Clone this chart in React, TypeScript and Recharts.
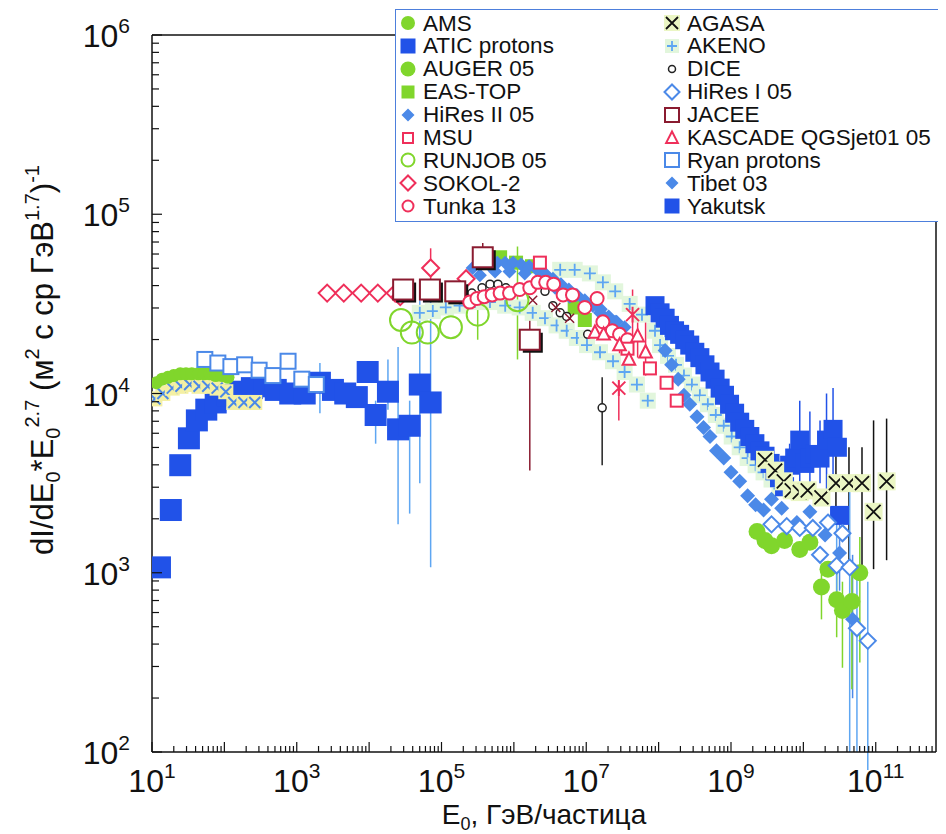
import { ScatterChart, Scatter, XAxis, YAxis, ErrorBar, ReferenceLine, Legend, Label } from 'recharts';

// Points are [lg E0, lg flux] or [lg E0, lg flux, lg lower, lg upper]
const AMS = [
  [1.06, 4.06], [1.14, 4.08], [1.22, 4.09], [1.30, 4.1], [1.39, 4.11], [1.47, 4.11], [1.55, 4.11],
  [1.64, 4.11], [1.72, 4.11], [1.8, 4.11], [1.88, 4.1], [1.97, 4.1], [2.05, 4.09],
];
const ATIC = [
  [1.11, 3.03], [1.26, 3.35], [1.39, 3.6], [1.51, 3.75], [1.62, 3.85], [1.75, 3.91], [1.88, 3.95],
  [2.05, 3.99], [2.22, 4.01], [2.38, 4.03], [2.55, 4.04], [2.71, 4.02], [2.91, 4.0], [3.11, 4.0],
  [3.32, 4.06, 3.89, 4.17], [3.5, 4.02], [3.67, 4.0], [3.83, 3.98], [3.98, 4.12],
  [4.09, 3.88, 3.72, 3.96], [4.26, 4.01, 3.91, 4.19], [4.4, 3.8, 3.27, 4.26], [4.56, 3.82, 3.33, 3.96],
  [4.7, 4.05, 3.5, 4.52], [4.85, 3.95, 3.03, 4.52],
];
const LOW_E_CROSSES = [
  [1.04, 3.97], [1.15, 4.0], [1.28, 4.03], [1.4, 4.04], [1.52, 4.05], [1.65, 4.04], [1.77, 4.04],
  [1.9, 4.03], [2.02, 4.01], [2.13, 3.95], [2.27, 3.95], [2.42, 3.95],
];
const RYAN = [
  [1.73, 4.19], [1.91, 4.17], [2.09, 4.15], [2.28, 4.16], [2.48, 4.13], [2.67, 4.1], [2.88, 4.18],
  [3.07, 4.08], [3.27, 4.05],
];
const SOKOL = [
  [3.42, 4.56], [3.65, 4.56], [3.89, 4.56], [4.12, 4.56], [4.36, 4.56], [4.43, 4.54],
  [4.85, 4.7, 4.62, 4.81], [5.34, 4.64],
];
const JACEE = [
  [4.47, 4.58], [4.84, 4.58], [5.19, 4.57], [5.57, 4.76, 4.7, 4.84], [6.22, 4.3, 3.57, 4.41],
];
const RUNJOB = [
  [4.44, 4.41], [4.59, 4.34], [4.81, 4.34], [5.13, 4.37], [5.5, 4.44, 4.3, 4.5], [6.05, 4.52, 4.19, 4.82],
];
const TUNKA = [
  [5.39, 4.51], [5.49, 4.53], [5.59, 4.54], [5.7, 4.55], [5.81, 4.56], [5.94, 4.56], [6.08, 4.58],
  [6.22, 4.59], [6.33, 4.62], [6.44, 4.62], [6.55, 4.61], [6.68, 4.55], [6.81, 4.55], [6.98, 4.48],
  [7.15, 4.53], [7.23, 4.4], [7.36, 4.35], [7.46, 4.33], [7.57, 4.3],
];
const TIBET = [
  [5.43, 4.7], [5.54, 4.72], [5.65, 4.72], [5.77, 4.73], [5.88, 4.73], [5.99, 4.73], [6.1, 4.72],
  [6.21, 4.71], [6.32, 4.69], [6.43, 4.67], [6.54, 4.64], [6.65, 4.61], [6.76, 4.58], [6.87, 4.55],
  [6.98, 4.52], [7.09, 4.49], [7.2, 4.47], [7.31, 4.43], [7.42, 4.4], [7.53, 4.37],
  [5.53, 4.66], [5.74, 4.68], [5.94, 4.68], [6.15, 4.67], [6.36, 4.64], [6.57, 4.59], [6.77, 4.54],
  [6.98, 4.49], [7.19, 4.45], [7.4, 4.4],
];
const HIRES2 = [
  [8.09, 4.24, 4.18, 4.35], [8.18, 4.16], [8.27, 4.08], [8.35, 3.99], [8.43, 3.94], [8.53, 3.87],
  [8.62, 3.81], [8.71, 3.76], [8.8, 3.68], [8.9, 3.64], [9.0, 3.56], [9.12, 3.51], [9.23, 3.43],
  [9.34, 3.38], [9.45, 3.35], [9.56, 3.41], [9.7, 3.36], [9.91, 3.28], [10.09, 3.34], [10.3, 3.21],
  [10.5, 3.11, 2.9, 3.3], [10.68, 2.74, 2.3, 3.1],
];
const HIRES1 = [
  [9.56, 3.27], [9.77, 3.26], [9.95, 3.25], [10.13, 3.25], [10.34, 3.28], [10.23, 3.1],
  [10.46, 3.04, 2.85, 3.3], [10.54, 3.22], [10.64, 3.03, 2.0, 3.5], [10.74, 2.69, 2.0, 3.0],
  [10.89, 2.62, 1.9, 2.95],
];
const AUGER = [
  [9.36, 3.23], [9.47, 3.18], [9.56, 3.15], [9.74, 3.18], [9.95, 3.13], [10.09, 3.17], [10.34, 3.02],
  [10.25, 2.92, 2.74, 3.05], [10.46, 2.85, 2.64, 3.0], [10.54, 2.79, 2.47, 2.95], [10.67, 2.84, 2.35, 3.0],
  [10.78, 3.0, 2.5, 3.2],
];
const AGASA = [
  [9.47, 3.63], [9.61, 3.57], [9.73, 3.51], [9.84, 3.46], [9.95, 3.45], [10.06, 3.46], [10.25, 3.42],
  [10.45, 3.5, 3.29, 3.66], [10.63, 3.5, 3.04, 3.7], [10.81, 3.5, 3.02, 3.7], [10.97, 3.34, 3.02, 3.85],
  [11.15, 3.51, 3.07, 3.86],
];
const YAKUTSK = [
  [7.95, 4.49], [8.02, 4.45], [8.09, 4.42], [8.15, 4.38], [8.22, 4.35], [8.29, 4.33], [8.36, 4.3],
  [8.43, 4.27], [8.5, 4.23], [8.57, 4.2], [8.64, 4.16], [8.71, 4.12], [8.78, 4.08], [8.85, 4.03],
  [8.91, 3.99], [8.98, 3.94], [9.05, 3.89], [9.12, 3.84], [9.19, 3.8], [9.26, 3.76], [9.33, 3.72],
  [9.4, 3.68], [9.47, 3.65], [9.54, 3.61], [9.61, 3.57], [9.67, 3.53], [9.74, 3.48],
  [9.81, 3.6, 3.45, 3.72], [9.88, 3.64], [9.95, 3.74, 3.5, 3.96], [10.02, 3.61], [10.09, 3.64, 3.45, 3.9],
  [10.16, 3.66], [10.23, 3.64, 3.5, 3.85], [10.32, 3.74, 3.45, 4.0], [10.41, 3.8, 3.55, 4.03],
  [10.47, 3.7], [10.5, 3.32],
];
const EAS_TOP = [[5.81, 4.76], [6.03, 4.73], [6.25, 4.71], [6.84, 4.48], [6.98, 4.41]];
const MSU = [[6.36, 4.73], [7.57, 4.25], [7.88, 4.14], [8.11, 4.06], [8.25, 3.96]];
const KASCADE = [
  [7.12, 4.34], [7.24, 4.33], [7.46, 4.27, 4.1, 4.38], [7.59, 4.19, 4.08, 4.3], [7.71, 4.32, 4.2, 4.42],
  [7.82, 4.23, 4.1, 4.41],
];
const KASCADE_STARS = [[7.64, 4.44, 4.3, 4.58], [7.45, 4.03, 3.85, 4.2]];
const DICE = [
  [5.42, 4.56], [5.56, 4.59], [5.67, 4.61], [5.78, 4.61], [5.89, 4.59], [6.43, 4.57], [6.54, 4.49],
  [6.64, 4.45], [6.73, 4.43], [7.02, 4.33], [7.22, 3.92, 3.6, 4.09],
];
const DARK_CROSSES = [[6.26, 4.52], [6.58, 4.48], [6.77, 4.42]];
const AKENO = [
  [4.7, 4.45], [4.88, 4.46], [5.06, 4.48], [5.25, 4.49], [5.46, 4.51], [5.67, 4.51], [5.88, 4.49],
  [6.08, 4.48], [6.26, 4.45], [6.43, 4.42], [6.59, 4.38], [6.73, 4.35], [6.87, 4.31], [7.01, 4.27],
  [7.19, 4.23], [7.37, 4.18], [7.53, 4.12], [7.7, 4.05], [7.85, 3.96],
  [6.64, 4.69], [6.84, 4.69], [7.05, 4.67], [7.23, 4.62], [7.4, 4.57], [7.6, 4.5], [7.77, 4.44], [7.95, 4.35],
  [8.02, 4.27], [8.13, 4.21], [8.24, 4.16], [8.35, 4.1], [8.46, 4.05], [8.57, 3.99], [8.68, 3.94],
  [8.79, 3.88], [8.9, 3.82], [9.01, 3.76], [9.12, 3.7], [9.23, 3.64], [9.34, 3.6], [9.45, 3.56],
  [9.56, 3.52], [9.67, 3.47],
];

// axis decades
const X_DECADES = [1, 2, 3, 4, 5, 6, 7, 8, 9, 10, 11];
const X_LABELED = [1, 3, 5, 7, 9, 11];
const Y_DECADES = [2, 3, 4, 5, 6];
const X_MIN = 10;
const X_MAX = 6.8e11;
const Y_MIN = 100;
const Y_MAX = 1e6;

const FONT = "Arial, 'Liberation Sans', sans-serif";
const BLUE_DEEP = '#2152e8';
const BLUE_MID = '#4b89e8';
const BLUE_LIGHT = '#5ea6f2';
const GREEN = '#80d62c';
const RED = '#ef2f5a';
const MAROON = '#8a1b30';

const logTicks = (decades: number[], max: number) => {
  const out: number[] = [];
  decades.forEach((d) => {
    for (let k = 1; k <= 9; k++) {
      const v = k * 10 ** d;
      if (v <= max * 1.0001) out.push(v);
    }
  });
  return out;
};
const X_TICKS = logTicks(X_DECADES, X_MAX);
const Y_TICKS = logTicks(Y_DECADES, Y_MAX);

const rows = (pts: number[][]) =>
  pts.map(([lx, ly, lo, hi]) => {
    const y = 10 ** ly;
    return { x: 10 ** lx, y, err: lo === undefined ? undefined : [y - 10 ** lo, 10 ** hi - y] };
  });

type GlyphStyle = {
  kind: 'circle' | 'square' | 'diamond' | 'triangle' | 'plus' | 'cross' | 'star' | 'shadowSquare';
  size: number;
  fill?: string;
  stroke?: string;
  sw?: number;
  bg?: string;
};

function Glyph({ cx, cy, g }: { cx: number; cy: number; g: GlyphStyle }) {
  if (cx == null || cy == null) return null;
  const r = g.size / 2;
  const sw = g.sw ?? 1.5;
  const fill = g.fill ?? 'none';
  const stroke = g.stroke ?? 'none';
  const bg = g.bg ? (
    <rect x={cx - r - 2} y={cy - r - 2} width={g.size + 4} height={g.size + 4} fill={g.bg} />
  ) : null;
  switch (g.kind) {
    case 'circle':
      return <circle cx={cx} cy={cy} r={r} fill={fill} stroke={stroke} strokeWidth={sw} />;
    case 'square':
      return <rect x={cx - r} y={cy - r} width={g.size} height={g.size} fill={fill} stroke={stroke} strokeWidth={sw} />;
    case 'shadowSquare':
      return (
        <g>
          <rect x={cx - r + 3} y={cy - r + 3} width={g.size} height={g.size} fill="#111" />
          <rect x={cx - r} y={cy - r} width={g.size} height={g.size} fill={fill} stroke={stroke} strokeWidth={sw} />
        </g>
      );
    case 'diamond':
      return (
        <polygon
          points={`${cx},${cy - r} ${cx + r},${cy} ${cx},${cy + r} ${cx - r},${cy}`}
          fill={fill}
          stroke={stroke}
          strokeWidth={sw}
        />
      );
    case 'triangle':
      return (
        <polygon
          points={`${cx},${cy - r} ${cx + r * 0.9},${cy + r * 0.75} ${cx - r * 0.9},${cy + r * 0.75}`}
          fill={fill}
          stroke={stroke}
          strokeWidth={sw}
        />
      );
    case 'plus':
      return (
        <g>
          {bg}
          <path d={`M${cx - r},${cy}H${cx + r}M${cx},${cy - r}V${cy + r}`} stroke={stroke} strokeWidth={sw} />
        </g>
      );
    case 'cross':
      return (
        <g>
          {bg}
          <path d={`M${cx - r},${cy - r}L${cx + r},${cy + r}M${cx - r},${cy + r}L${cx + r},${cy - r}`} stroke={stroke} strokeWidth={sw} />
        </g>
      );
    case 'star':
      return (
        <path
          d={`M${cx - r},${cy - r}L${cx + r},${cy + r}M${cx - r},${cy + r}L${cx + r},${cy - r}M${cx},${cy - r * 1.2}V${cy + r * 1.2}`}
          stroke={stroke}
          strokeWidth={sw}
        />
      );
    default:
      return null;
  }
}

const G: Record<string, GlyphStyle> = {
  ams: { kind: 'circle', size: 13, fill: GREEN },
  atic: { kind: 'square', size: 22, fill: BLUE_DEEP },
  lowE: { kind: 'cross', size: 11, stroke: BLUE_MID, sw: 2, bg: '#f4f0a4' },
  ryan: { kind: 'square', size: 15, fill: '#fff', stroke: BLUE_MID, sw: 2 },
  sokol: { kind: 'diamond', size: 17, fill: '#fff', stroke: RED, sw: 2 },
  jacee: { kind: 'shadowSquare', size: 20, fill: '#fff', stroke: MAROON, sw: 2 },
  runjob: { kind: 'circle', size: 22, fill: 'none', stroke: GREEN, sw: 2 },
  tunka: { kind: 'circle', size: 13, fill: '#fff', stroke: RED, sw: 2 },
  tibet: { kind: 'diamond', size: 14, fill: BLUE_MID },
  hires2: { kind: 'diamond', size: 15, fill: BLUE_MID },
  hires1: { kind: 'diamond', size: 16, fill: '#fff', stroke: BLUE_MID, sw: 2 },
  auger: { kind: 'circle', size: 17, fill: GREEN },
  agasa: { kind: 'cross', size: 14, stroke: '#111', sw: 1.8, bg: '#ebf6c4' },
  yakutsk: { kind: 'square', size: 19, fill: BLUE_DEEP },
  eastop: { kind: 'square', size: 14, fill: GREEN },
  msu: { kind: 'square', size: 12, fill: '#fff', stroke: RED, sw: 2 },
  kascade: { kind: 'triangle', size: 14, fill: '#fff', stroke: RED, sw: 2 },
  stars: { kind: 'star', size: 13, stroke: RED, sw: 2 },
  dice: { kind: 'circle', size: 8, fill: '#fff', stroke: '#222', sw: 1.5 },
  darkX: { kind: 'cross', size: 9, stroke: MAROON, sw: 1.5 },
  akeno: { kind: 'plus', size: 12, stroke: BLUE_LIGHT, sw: 1.8, bg: '#e2f6dc' },
};

// drawing order: later series sit on top
const SERIES = [
  { name: 'AKENO', pts: AKENO, g: G.akeno, err: BLUE_LIGHT },
  { name: 'ATIC protons', pts: ATIC, g: G.atic, err: BLUE_LIGHT },
  { name: 'low-E', pts: LOW_E_CROSSES, g: G.lowE, err: BLUE_MID },
  { name: 'AMS', pts: AMS, g: G.ams, err: GREEN },
  { name: 'Ryan protons', pts: RYAN, g: G.ryan, err: BLUE_MID },
  { name: 'EAS-TOP', pts: EAS_TOP, g: G.eastop, err: GREEN },
  { name: 'Tibet 03', pts: TIBET, g: G.tibet, err: BLUE_MID },
  { name: 'HiRes II 05', pts: HIRES2, g: G.hires2, err: BLUE_MID },
  { name: 'DICE', pts: DICE, g: G.dice, err: '#222' },
  { name: 'dark-x', pts: DARK_CROSSES, g: G.darkX, err: MAROON },
  { name: 'SOKOL-2', pts: SOKOL, g: G.sokol, err: RED },
  { name: 'JACEE', pts: JACEE, g: G.jacee, err: MAROON },
  { name: 'RUNJOB 05', pts: RUNJOB, g: G.runjob, err: GREEN },
  { name: 'Tunka 13', pts: TUNKA, g: G.tunka, err: RED },
  { name: 'MSU', pts: MSU, g: G.msu, err: RED },
  { name: 'KASCADE QGSjet01 05', pts: KASCADE, g: G.kascade, err: RED },
  { name: 'stars', pts: KASCADE_STARS, g: G.stars, err: RED },
  { name: 'Yakutsk', pts: YAKUTSK, g: G.yakutsk, err: BLUE_DEEP },
  { name: 'AGASA', pts: AGASA, g: G.agasa, err: '#111' },
  { name: 'AUGER 05', pts: AUGER, g: G.auger, err: GREEN },
  { name: 'HiRes I 05', pts: HIRES1, g: G.hires1, err: BLUE_LIGHT },
];

const LEGEND_LEFT: [string, GlyphStyle][] = [
  ['AMS', { kind: 'circle', size: 14, fill: GREEN }],
  ['ATIC protons', { kind: 'square', size: 15, fill: BLUE_DEEP }],
  ['AUGER 05', { kind: 'circle', size: 15, fill: GREEN }],
  ['EAS-TOP', { kind: 'square', size: 13, fill: GREEN }],
  ['HiRes II 05', { kind: 'diamond', size: 13, fill: BLUE_MID }],
  ['MSU', { kind: 'square', size: 10, fill: '#fff', stroke: RED, sw: 2 }],
  ['RUNJOB 05', { kind: 'circle', size: 13, fill: '#fff', stroke: GREEN, sw: 2 }],
  ['SOKOL-2', { kind: 'diamond', size: 15, fill: '#fff', stroke: RED, sw: 2 }],
  ['Tunka 13', { kind: 'circle', size: 11, fill: '#fff', stroke: RED, sw: 2 }],
];
const LEGEND_RIGHT: [string, GlyphStyle][] = [
  ['AGASA', { kind: 'cross', size: 12, stroke: '#111', sw: 1.8, bg: '#ebf6c4' }],
  ['AKENO', { kind: 'plus', size: 10, stroke: BLUE_LIGHT, sw: 1.8, bg: '#e2f6dc' }],
  ['DICE', { kind: 'circle', size: 7, fill: '#fff', stroke: '#222', sw: 1.5 }],
  ['HiRes I 05', { kind: 'diamond', size: 15, fill: '#fff', stroke: BLUE_MID, sw: 2 }],
  ['JACEE', { kind: 'square', size: 14, fill: '#fff', stroke: MAROON, sw: 2 }],
  ['KASCADE QGSjet01 05', { kind: 'triangle', size: 13, fill: '#fff', stroke: RED, sw: 2 }],
  ['Ryan protons', { kind: 'square', size: 14, fill: '#fff', stroke: BLUE_MID, sw: 2 }],
  ['Tibet 03', { kind: 'diamond', size: 13, fill: BLUE_MID }],
  ['Yakutsk', { kind: 'square', size: 15, fill: BLUE_DEEP }],
];

function LegendBox() {
  return (
    <div
      style={{
        position: 'relative',
        width: 546,
        height: 213,
        boxSizing: 'border-box',
        border: '1.5px solid #4d7fdc',
        background: '#fff',
        fontFamily: FONT,
        fontSize: 22.5,
        color: '#111',
      }}
    >
      {[LEGEND_LEFT, LEGEND_RIGHT].map((col, c) =>
        col.map(([label, g], i) => (
          <div
            key={label}
            style={{
              position: 'absolute',
              left: c === 0 ? 1 : 265,
              top: 1.5 + i * 22.9,
              height: 23,
              display: 'flex',
              alignItems: 'center',
              whiteSpace: 'nowrap',
            }}
          >
            <svg width={22} height={22} style={{ display: 'block' }}>
              <Glyph cx={11} cy={11} g={g} />
            </svg>
            <span style={{ marginLeft: 4, lineHeight: '23px' }}>{label}</span>
          </div>
        )),
      )}
    </div>
  );
}

const isMajor = (v: number) => Math.abs(Math.log10(v) - Math.round(Math.log10(v))) < 1e-6;

const XTick = ({ x, y, payload }: any) => {
  const v = payload.value;
  const e = Math.round(Math.log10(v));
  const major = isMajor(v);
  return (
    <g>
      <line x1={x} x2={x} y1={y} y2={y - (major ? 10 : 6)} stroke="#111" strokeWidth={1.2} />
      {major && X_LABELED.includes(e) && (
        <text x={x} y={y + 40} textAnchor="middle" fontSize={32} fontFamily={FONT} fill="#111">
          10<tspan dy={-14} fontSize={21}>{e}</tspan>
        </text>
      )}
    </g>
  );
};

const YTick = ({ x, y, payload }: any) => {
  const v = payload.value;
  const e = Math.round(Math.log10(v));
  const major = isMajor(v);
  return (
    <g>
      <line x1={x} x2={x + (major ? 10 : 7)} y1={y} y2={y} stroke="#111" strokeWidth={1.2} />
      {major && (
        <text x={x - 22} y={y + 12} textAnchor="end" fontSize={32} fontFamily={FONT} fill="#111">
          10<tspan dy={-14} fontSize={21}>{e}</tspan>
        </text>
      )}
    </g>
  );
};

const XTitle = ({ viewBox }: any) => (
  <text x={viewBox.x + viewBox.width / 2} y={viewBox.y + 72} textAnchor="middle" fontSize={28} fontFamily={FONT} fill="#111">
    E<tspan dy={6} fontSize={18}>0</tspan>
    <tspan dy={-6}>, ГэВ/частица</tspan>
  </text>
);

const YTitle = () => (
  <text transform="translate(45,352) rotate(-90)" textAnchor="middle" fontSize={31} fontFamily={FONT} fill="#111">
    dI/dE<tspan dy={7} fontSize={20}>0</tspan>
    <tspan dy={-7}>*E</tspan>
    <tspan dy={7} fontSize={20}>0</tspan>
    <tspan dy={-21} fontSize={20}>2.7</tspan>
    <tspan dy={14}> (м</tspan>
    <tspan dy={-14} fontSize={20}>2</tspan>
    <tspan dy={14}> с ср ГэВ</tspan>
    <tspan dy={-14} fontSize={20}>1.7</tspan>
    <tspan dy={14}>)</tspan>
    <tspan dy={-14} fontSize={20}>-1</tspan>
  </text>
);

export default function App() {
  return (
    <ScatterChart width={938} height={826} margin={{ top: 27, right: 10, bottom: 22, left: 54 }}>
      <XAxis
        type="number"
        dataKey="x"
        scale="log"
        domain={[X_MIN, X_MAX]}
        allowDataOverflow
        ticks={X_TICKS}
        interval={0}
        tick={<XTick />}
        tickLine={false}
        tickSize={0}
        tickMargin={0}
        axisLine={{ stroke: '#111', strokeWidth: 1.5 }}
        height={60}
      >
        <Label content={XTitle} />
      </XAxis>
      <YAxis
        type="number"
        dataKey="y"
        scale="log"
        domain={[Y_MIN, Y_MAX]}
        allowDataOverflow
        ticks={Y_TICKS}
        interval={0}
        tick={<YTick />}
        tickLine={false}
        tickSize={0}
        tickMargin={0}
        axisLine={{ stroke: '#111', strokeWidth: 1.5 }}
        width={90}
      >
        <Label content={YTitle} />
      </YAxis>
      <ReferenceLine y={Y_MAX} stroke="#111" strokeWidth={1.5} ifOverflow="visible" />
      <ReferenceLine x={X_MAX} stroke="#111" strokeWidth={1.5} ifOverflow="visible" />
      {SERIES.map((s) => (
        <Scatter
          key={s.name}
          name={s.name}
          data={rows(s.pts)}
          isAnimationActive={false}
          shape={(p: any) => <Glyph cx={p.cx} cy={p.cy} g={s.g} />}
        >
          <ErrorBar dataKey="err" direction="y" width={0} stroke={s.err} strokeWidth={1.5} />
        </Scatter>
      ))}
      <Legend
        layout="vertical"
        align="center"
        verticalAlign="middle"
        wrapperStyle={{ left: 387, top: 1, width: 546, height: 213 }}
        content={() => <LegendBox />}
      />
    </ScatterChart>
  );
}
